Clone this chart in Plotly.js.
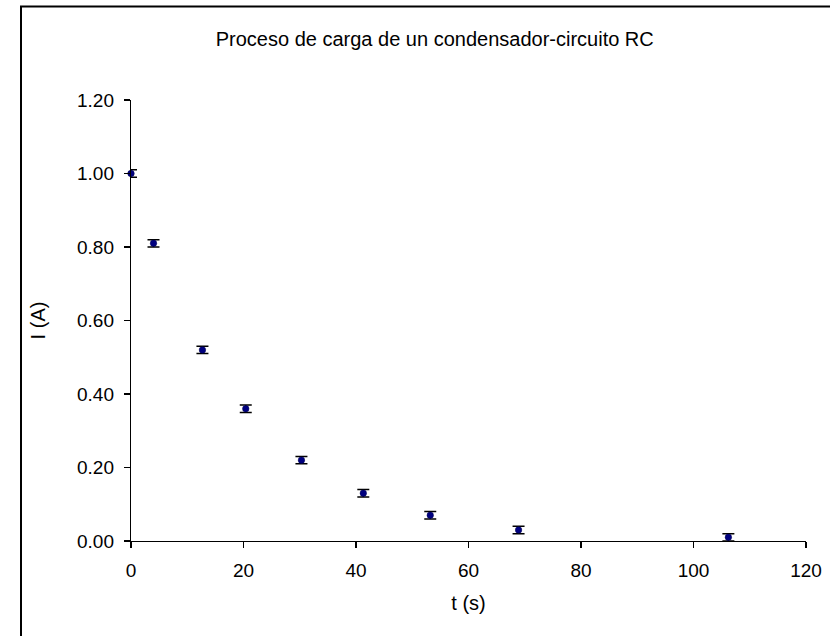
<!DOCTYPE html>
<html>
<head>
<meta charset="utf-8">
<script src="https://cdn.plot.ly/plotly-3.0.1.min.js"></script>
<style>
  html, body { margin: 0; padding: 0; background: #fff; }
  #chart { width: 830px; height: 636px; }
</style>
</head>
<body>
<div id="chart"></div>
<script>
// Data
const tSeconds = [0, 4.0, 12.7, 20.4, 30.3, 41.3, 53.2, 68.9, 106.2];
const currentA = [1.00, 0.81, 0.52, 0.36, 0.22, 0.13, 0.07, 0.03, 0.01];
const currentErr = [0.01, 0.01, 0.01, 0.01, 0.01, 0.01, 0.01, 0.01, 0.01];

const chartTitle = "Proceso de carga de un condensador-circuito RC";
const xTitle = "t (s)";
const yTitle = "I (A)";

const font = "Arial, 'Liberation Sans', sans-serif";

const trace = {
  x: tSeconds,
  y: currentA,
  type: "scatter",
  mode: "markers",
  marker: { symbol: "circle", size: 6.5, color: "#000080", line: { color: "#000050", width: 0.5 } },
  error_y: { type: "data", array: currentErr, visible: true, color: "#000000", thickness: 1.5, width: 6 },
  showlegend: false,
  cliponaxis: false
};

const layout = {
  width: 830,
  height: 636,
  margin: { l: 131, r: 24, t: 100, b: 95 },
  paper_bgcolor: "#ffffff",
  plot_bgcolor: "#ffffff",
  font: { family: font, color: "#000000", size: 19 },
  title: { text: chartTitle, font: { family: font, size: 20, color: "#000" }, x: 0.45, xref: "paper", xanchor: "center", y: 0.938, yanchor: "middle" },
  xaxis: {
    range: [0, 120],
    dtick: 20,
    tick0: 0,
    showgrid: false,
    zeroline: false,
    showline: true,
    linecolor: "#000",
    linewidth: 1.2,
    ticks: "outside",
    ticklen: 6,
    tickwidth: 1.2,
    tickcolor: "#000",
    ticklabelstandoff: 6,
    tickfont: { size: 19 },
    title: { text: xTitle, font: { size: 20 }, standoff: 16 }
  },
  yaxis: {
    range: [0, 1.2],
    dtick: 0.2,
    tick0: 0,
    tickformat: ".2f",
    showgrid: false,
    zeroline: false,
    showline: true,
    linecolor: "#000",
    linewidth: 1.2,
    ticks: "outside",
    ticklen: 6,
    tickwidth: 1.2,
    tickcolor: "#000",
    ticklabelstandoff: 6,
    tickfont: { size: 19 },
    title: { text: yTitle, font: { size: 20 }, standoff: 26 }
  },
  shapes: [{
    type: "rect",
    xref: "paper", yref: "paper",
    x0: (21 - 131) / 675, x1: 1.1,
    y0: -0.3, y1: (541.5 - 7) / 441,
    line: { color: "#000", width: 2 },
    fillcolor: "rgba(0,0,0,0)",
    layer: "below"
  }]
};

Plotly.newPlot("chart", [trace], layout, { staticPlot: true, displayModeBar: false });
</script>
</body>
</html>
